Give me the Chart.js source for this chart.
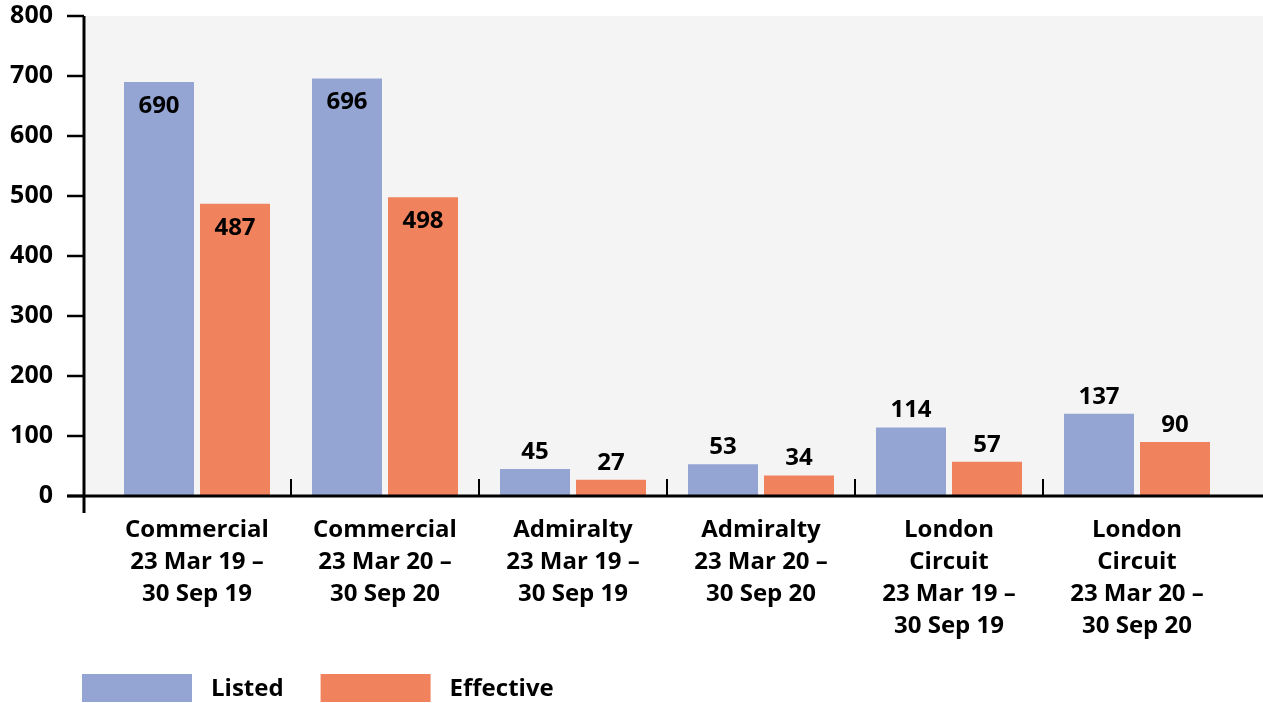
<!DOCTYPE html>
<html>
<head>
<meta charset="utf-8">
<script src="https://cdn.jsdelivr.net/npm/chart.js@4/dist/chart.umd.min.js"></script>
<style>
  html, body { margin: 0; padding: 0; background: #ffffff; }
  #wrap { width: 1263px; height: 703px; position: relative; }
</style>
</head>
<body>
<div id="wrap"><canvas id="c" width="1263" height="703"></canvas></div>
<script>
// Court sitting days by venue and period
const categories = [
  ["Commercial", "23 Mar 19 –", "30 Sep 19"],
  ["Commercial", "23 Mar 20 –", "30 Sep 20"],
  ["Admiralty", "23 Mar 19 –", "30 Sep 19"],
  ["Admiralty", "23 Mar 20 –", "30 Sep 20"],
  ["London", "Circuit", "23 Mar 19 –", "30 Sep 19"],
  ["London", "Circuit", "23 Mar 20 –", "30 Sep 20"]
];
const listedValues = [690, 696, 45, 53, 114, 137];
const effectiveValues = [487, 498, 27, 34, 57, 90];
const yTickValues = [0, 100, 200, 300, 400, 500, 600, 700, 800];
const seriesNames = ["Listed", "Effective"];
const seriesColors = ["#94a5d3", "#f1825e"];

const FONT_FAMILY = "'Open Sans', 'Noto Sans', sans-serif";
const FONT_WEIGHT = "bold";
const PLOT_BG = "#f4f4f4";

// Axis frame, category separators, value labels and legend
const decorations = {
  id: "decorations",
  beforeDatasetsDraw(chart) {
    const { ctx, scales: { y } } = chart;
    const zeroY = y.getPixelForValue(0);
    const topY = y.getPixelForValue(yTickValues[yTickValues.length - 1]);
    ctx.save();
    ctx.fillStyle = PLOT_BG;
    ctx.fillRect(86, topY, chart.width - 86, zeroY - topY);
    ctx.restore();
  },
  afterDatasetsDraw(chart) {
    const { ctx, scales: { x, y } } = chart;
    const zeroY = y.getPixelForValue(0);
    const topY = y.getPixelForValue(yTickValues[yTickValues.length - 1]);
    const axisX = 84;
    ctx.save();
    ctx.strokeStyle = "#000";
    ctx.lineCap = "butt";

    // y tick marks
    ctx.lineWidth = 2.5;
    yTickValues.forEach(v => {
      const py = y.getPixelForValue(v);
      ctx.beginPath();
      ctx.moveTo(67, py);
      ctx.lineTo(axisX, py);
      ctx.stroke();
    });

    // category separators rising from the x axis
    ctx.lineWidth = 2;
    const half = (x.getPixelForValue(1) - x.getPixelForValue(0)) / 2;
    for (let i = 1; i < categories.length; i++) {
      const px = Math.round(x.getPixelForValue(i) - half);
      ctx.beginPath();
      ctx.moveTo(px, zeroY);
      ctx.lineTo(px, zeroY - 17);
      ctx.stroke();
    }

    // axis lines
    ctx.lineWidth = 3;
    ctx.beginPath();
    ctx.moveTo(67, zeroY);
    ctx.lineTo(chart.width, zeroY);
    ctx.stroke();
    ctx.beginPath();
    ctx.moveTo(axisX, topY);
    ctx.lineTo(axisX, zeroY + 17);
    ctx.stroke();

    // value labels
    ctx.fillStyle = "#000";
    ctx.font = `${FONT_WEIGHT} 24px ${FONT_FAMILY}`;
    ctx.textAlign = "center";
    ctx.textBaseline = "middle";
    chart.data.datasets.forEach((ds, di) => {
      chart.getDatasetMeta(di).data.forEach((bar, i) => {
        const v = ds.data[i];
        const ly = v >= 300 ? bar.y + 24 : bar.y - 17;
        ctx.fillText(String(v), bar.x, ly);
      });
    });

    // legend
    ctx.font = `${FONT_WEIGHT} 24px ${FONT_FAMILY}`;
    ctx.textAlign = "left";
    let lx = 82;
    const boxY = 674, boxW = 110, boxH = 28;
    chart.data.datasets.forEach(ds => {
      ctx.fillStyle = ds.backgroundColor;
      ctx.fillRect(lx, boxY, boxW, boxH);
      ctx.fillStyle = "#000";
      const tx = lx + boxW + 19;
      ctx.fillText(ds.label, tx, boxY + boxH / 2 + 1);
      lx = tx + ctx.measureText(ds.label).width + 37;
    });
    ctx.restore();
  }
};

new Chart(document.getElementById("c"), {
  type: "bar",
  data: {
    labels: categories,
    datasets: [
      { label: seriesNames[0], data: listedValues, backgroundColor: seriesColors[0] },
      { label: seriesNames[1], data: effectiveValues, backgroundColor: seriesColors[1] }
    ]
  },
  options: {
    responsive: false,
    devicePixelRatio: 1,
    animation: false,
    layout: { padding: { top: 16, right: 32, bottom: 0, left: 0 } },
    categoryPercentage: 0.8085,
    barPercentage: 0.921,
    plugins: {
      legend: { display: false },
      tooltip: { enabled: false }
    },
    scales: {
      x: {
        grid: { display: false },
        border: { display: false },
        ticks: {
          color: "#000",
          padding: 10,
          maxRotation: 0,
          autoSkip: false,
          font: { family: FONT_FAMILY, size: 24, weight: FONT_WEIGHT, lineHeight: 1.33 }
        },
        afterFit(scale) {
          scale.height = 207;
          scale.paddingLeft = 0; scale.paddingRight = 0;
          scale.paddingTop = 0; scale.paddingBottom = 0;
        }
      },
      y: {
        min: 0,
        max: 800,
        grid: { display: false },
        border: { display: false },
        afterBuildTicks(scale) { scale.ticks = yTickValues.map(v => ({ value: v })); },
        ticks: {
          color: "#000",
          padding: 42,
          font: { family: FONT_FAMILY, size: 25, weight: FONT_WEIGHT }
        },
        afterFit(scale) {
          scale.width = 103;
          scale.paddingTop = 0; scale.paddingBottom = 0;
          scale.paddingLeft = 0; scale.paddingRight = 0;
        }
      }
    }
  },
  plugins: [decorations]
});
</script>
</body>
</html>
